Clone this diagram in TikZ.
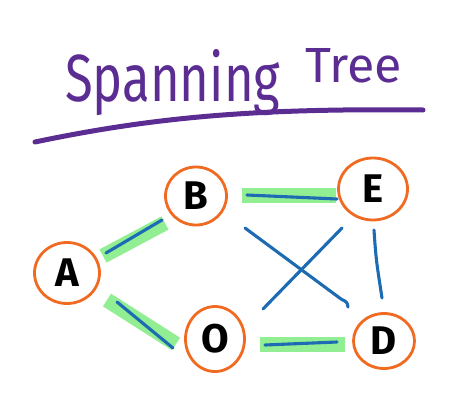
\documentclass[tikz,border=0pt]{standalone}
\usepackage{graphicx}
\usepackage{fontspec}
\setmainfont{Fira Sans}
\usetikzlibrary{shapes.geometric,calc}
\definecolor{ttlpurple}{HTML}{5B2C92}
\definecolor{ringorange}{HTML}{F06A22}
\definecolor{edgeblue}{HTML}{1D6BB3}
\definecolor{hlgreen}{HTML}{92EE92}
\begin{document}
\begin{tikzpicture}[x=1pt,y=-1pt,
  vertex/.style={ellipse, draw=ringorange, line width=2.8pt, fill=white, inner sep=0pt,
    font=\fontsize{40}{40}\selectfont\bfseries},
  edgeline/.style={edgeblue, line width=3.1pt, line cap=round},
  hilite/.style={hlgreen, line width=15pt, line cap=butt},
  title/.style={text=ttlpurple, inner sep=0pt, anchor=base west},
  uline/.style={ttlpurple, line width=5pt, line cap=round}]
\useasboundingbox (0,0) rectangle (474,405);
% title
\node[title] (t1) at (65,101) {\resizebox{215pt}{52pt}{Spanning}};
\node[title] (t2) at (305,82) {\resizebox{97pt}{34pt}{Tree}};
\coordinate (u1) at (35,142);
\coordinate (u2) at (423,110);
\draw[uline] (u1) .. controls (150,118) and (250,108) .. (u2);
% vertices
\node[vertex, minimum width=65pt, minimum height=61pt] (A) at (67,273) {A};
\node[vertex, minimum width=61pt, minimum height=58pt] (B) at (196,196) {B};
\node[vertex, minimum width=59pt, minimum height=65pt] (O) at (215,339) {O};
\node[vertex, minimum width=69pt, minimum height=62pt] (E) at (373,189) {E};
\node[vertex, minimum width=61pt, minimum height=55pt] (D) at (384,341) {D};
% highlights
\draw[hilite] ($(A)+(36,-17)$) -- ($(B)+(-31,27)$);
\draw[hilite] ($(A)+(40,27)$) -- ($(O)+(-39,5)$);
\draw[hilite] ($(B)+(46,-1)$) -- ($(E)+(-37,6)$);
\draw[hilite] ($(O)+(45,5)$) -- ($(D)+(-39,3)$);
% edges
\draw[edgeline] ($(A)+(39,-20)$) -- ($(B)+(-34,24)$);
\draw[edgeline] ($(A)+(50,29)$) -- ($(O)+(-42,9)$);
\draw[edgeline] ($(B)+(51,-1)$) -- ($(E)+(-36,10)$);
\draw[edgeline] ($(O)+(50,6)$) -- ($(D)+(-47,1)$);
\draw[edgeline] ($(B)+(49,32)$) -- ($(D)+(-43,-42)$) .. controls ($(D)+(-37,-39)$) .. ($(D)+(-36,-34)$);
\draw[edgeline] ($(O)+(48,-30)$) -- ($(E)+(-31,39)$);
\draw[edgeline] ($(E)+(1,41)$) .. controls ($(E)+(3,70)$) .. ($(D)+(-2,-43)$);
\end{tikzpicture}
\end{document}
